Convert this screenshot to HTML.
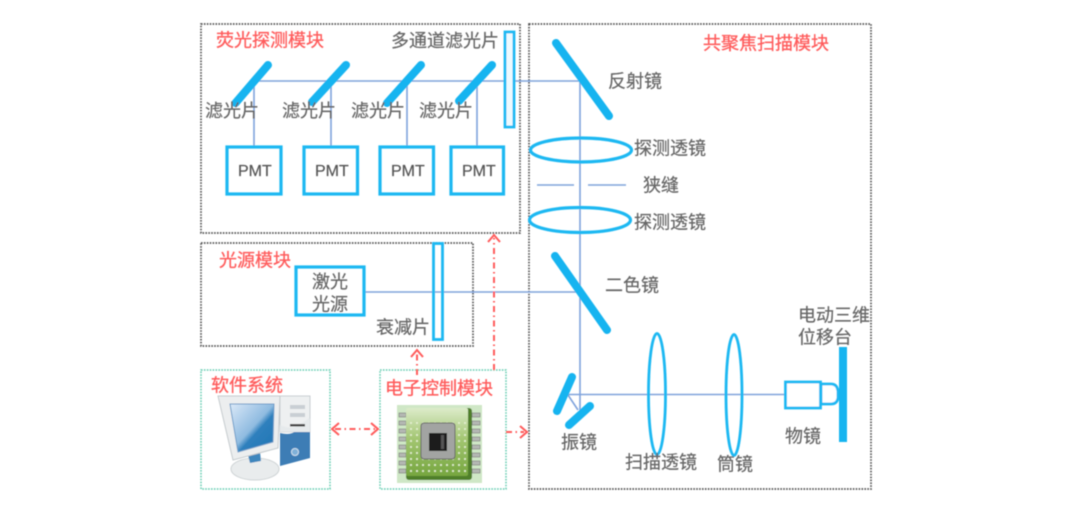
<!DOCTYPE html>
<html lang="zh">
<head>
<meta charset="utf-8">
<title>共聚焦显微系统</title>
<style>
html,body{margin:0;padding:0;background:#fff;width:1080px;height:513px;overflow:hidden}
svg{display:block}
text{font-family:"Liberation Sans","Noto Sans CJK SC",sans-serif;font-size:18px;fill:#666;stroke:#666;stroke-width:.2}
.r{fill:#ff5c5c;stroke:#ff5c5c;stroke-width:.3}
.p{font-size:16px;fill:#555;stroke:#555}
.box{fill:none;stroke:#555;stroke-width:1.7;stroke-dasharray:1.6 1.3}
.gbox{fill:none;stroke:#62ccb0;stroke-width:1.5;stroke-dasharray:1.6 1.3}
.beam{stroke:#7fa3dc;stroke-width:1.6;fill:none}
.m{stroke:#16b4f0;stroke-width:8;stroke-linecap:round;fill:none}
.o{stroke:#1cb8f2;stroke-width:3.2;fill:none}
.l{stroke:#1cb8f2;stroke-width:2.800;fill:none}
.a{stroke:#ff5c5c;stroke-width:2;fill:none;stroke-dasharray:6 3.500 1.500 3.500}
.h{stroke:#ff5c5c;stroke-width:2;fill:none}
</style>
</head>
<body>
<svg width="1080" height="513" viewBox="0 0 1080 513" xmlns="http://www.w3.org/2000/svg">
<defs>
<linearGradient id="scr" x1="0" y1="0" x2="1" y2="1"><stop offset="0" stop-color="#dbe9f8"/><stop offset=".5" stop-color="#8fbbe0"/><stop offset=".6" stop-color="#2f80bd"/><stop offset="1" stop-color="#1f74b4"/></linearGradient>
<linearGradient id="chip" x1="0" y1="0" x2="0" y2="1"><stop offset="0" stop-color="#dcebca"/><stop offset=".45" stop-color="#a3c672"/><stop offset="1" stop-color="#76a63f"/></linearGradient>
<pattern id="dots" width="6" height="6" patternUnits="userSpaceOnUse"><circle cx="3" cy="3" r="1" fill="#e6f0d4"/></pattern>
<filter id="b" x="-5%" y="-5%" width="110%" height="110%"><feGaussianBlur stdDeviation="0.5"/></filter>
</defs>
<g filter="url(#b)">
<!-- Module boxes -->
<rect class="box" x="201" y="24" width="319" height="209"/>
<rect class="box" x="201" y="243" width="272" height="103"/>
<rect class="box" x="529" y="24" width="342" height="465"/>
<rect class="gbox" x="201" y="370" width="129" height="119"/>
<rect class="gbox" x="380" y="370" width="126" height="119"/>

<!-- Beams -->
<path class="beam" d="M257 81H580V410M254 81V146M331 81V146M407 81V146M477 81V146"/>
<path class="beam" d="M365 292H576"/>
<path class="beam" d="M537 185H574M588 185H626"/>
<path class="beam" d="M568 394.500H786M568 395L578 410"/>

<!-- Fluorescence module -->
<path class="m" d="M235.500 103L268 65M312 102L346 65M387 103L421 65M459 101L492 65"/>
<rect class="o" x="227" y="147" width="54" height="47"/>
<rect class="o" x="304" y="147" width="53.500" height="47"/>
<rect class="o" x="380" y="147" width="53.500" height="47"/>
<rect class="o" x="451" y="147" width="52.500" height="47"/>
<rect x="505" y="32" width="9" height="95" fill="#eefaff" stroke="#1cb8f2" stroke-width="2.800"/>
<text class="r" x="216" y="46.500">荧光探测模块</text>
<text x="391" y="47">多通道滤光片</text>
<text x="205" y="117">滤光片</text>
<text x="282" y="117">滤光片</text>
<text x="351" y="117">滤光片</text>
<text x="419" y="117">滤光片</text>
<text class="p" x="238" y="176">PMT</text>
<text class="p" x="315" y="176">PMT</text>
<text class="p" x="391" y="176">PMT</text>
<text class="p" x="462" y="176">PMT</text>

<!-- Light source module -->
<rect class="o" x="296" y="267" width="68" height="48"/>
<rect x="433.500" y="243.500" width="9" height="96" fill="none" stroke="#1cb8f2" stroke-width="2.800"/>
<text class="r" x="219" y="266.500">光源模块</text>
<text x="312" y="288">激光</text>
<text x="312" y="310.500">光源</text>
<text x="376" y="333.500">衰减片</text>

<!-- Confocal module -->
<path class="m" d="M556 43L609 116M555 256L607 330M572 377L557 411M590 406L569 425"/>
<ellipse class="o" cx="581" cy="150" rx="50.500" ry="12"/>
<ellipse class="o" cx="580" cy="220" rx="50.500" ry="12.500"/>
<ellipse class="l" cx="657" cy="394" rx="8.500" ry="60.500"/>
<ellipse class="l" cx="734" cy="395" rx="8" ry="60.500"/>
<rect x="785.500" y="382" width="35" height="26" fill="#fff" stroke="#1cb8f2" stroke-width="2.800"/>
<path d="M821 384H831Q837 384 838 391V398Q837 404 831 404H821Z" fill="#fff" stroke="#1cb8f2" stroke-width="2.800"/>
<rect x="839" y="347" width="8" height="95" fill="#16b4f0"/>
<text class="r" x="703" y="49.500">共聚焦扫描模块</text>
<text x="608" y="87.500">反射镜</text>
<text x="634" y="154.500">探测透镜</text>
<text x="643" y="191.500">狭缝</text>
<text x="634" y="228.500">探测透镜</text>
<text x="605" y="291.500">二色镜</text>
<text x="798" y="321.500">电动三维</text>
<text x="798" y="343.500">位移台</text>
<text x="785" y="442.500">物镜</text>
<text x="561" y="448.500">振镜</text>
<text x="625" y="468.500">扫描透镜</text>
<text x="717" y="470.500">筒镜</text>

<!-- Software -->
<text class="r" x="211" y="391.500">软件系统</text>
<path d="M280 396H310V432H280Z" fill="#eef0f1" stroke="#c8ced2" stroke-width="1"/>
<path d="M280 433Q292 436 296 430Q302 424 310 418V458L280 466Z" fill="#3c7db5"/>
<path d="M280 425Q292 430 297 426L310 418V432H280Z" fill="#e6eaec"/>
<rect x="290" y="405" width="15" height="4" fill="#c9cfd4"/>
<rect x="290" y="413" width="15" height="4" fill="#c9cfd4"/>
<rect x="290" y="424" width="15" height="2.500" fill="#444"/>
<circle cx="295" cy="452" r="3.500" fill="#7fb0d8" stroke="#cfe0ee"/>
<ellipse cx="255" cy="469" rx="24" ry="11" fill="#e9eced" stroke="#cfd4d6"/>
<path d="M248 455L260 452L261 461L250 463Z" fill="#3d86bd"/>
<path d="M218 396H280L278 448L233 460Z" fill="#eceeef" stroke="#c4cacd" stroke-width="1"/>
<path d="M230 404H274L273 442L238 452Z" fill="url(#scr)" stroke="#6d9cc8" stroke-width="1"/>

<!-- Electronics -->
<text class="r" x="385" y="394.500">电子控制模块</text>
<rect x="397" y="405" width="85" height="78" fill="#cfe7c6"/>
<g fill="#b4b8b2" stroke="#777" stroke-width=".6">
<rect x="399" y="413" width="7" height="4"/><rect x="399" y="421" width="7" height="4"/><rect x="399" y="429" width="7" height="4"/><rect x="399" y="437" width="7" height="4"/><rect x="399" y="445" width="7" height="4"/><rect x="399" y="453" width="7" height="4"/><rect x="399" y="461" width="7" height="4"/><rect x="399" y="469" width="7" height="4"/>
<rect x="472" y="413" width="8" height="4"/><rect x="472" y="421" width="8" height="4"/><rect x="472" y="429" width="8" height="4"/><rect x="472" y="437" width="8" height="4"/><rect x="472" y="445" width="8" height="4"/><rect x="472" y="453" width="8" height="4"/><rect x="472" y="461" width="8" height="4"/><rect x="472" y="469" width="8" height="4"/>
</g>
<rect x="406" y="408" width="66" height="72" rx="3" fill="#4f7f2c"/>
<rect x="406" y="408" width="62" height="68" rx="2" fill="url(#chip)"/>
<rect x="406" y="420" width="62" height="56" fill="url(#dots)"/>
<rect x="421" y="423" width="34" height="36" rx="3" fill="#a2a4a2" stroke="#666" stroke-width="1"/>
<rect x="429" y="433" width="18" height="18" fill="#1d1d1d"/>
<rect x="441" y="435" width="3" height="14" fill="#555"/>

<!-- Control arrows -->
<path class="a" d="M494 370V238"/>
<path class="h" d="M488 242L494 235L500 242"/>
<path class="a" d="M417 375V353"/>
<path class="h" d="M411 357L417 350L423 357"/>
<path class="a" d="M335 429H376"/>
<path class="h" d="M339 423L332 429L339 435M371 423L378 429L371 435"/>
<path class="a" d="M506 432H524"/>
<path class="h" d="M520 426L527 432L520 438"/>
</g>
</svg>
</body>
</html>
